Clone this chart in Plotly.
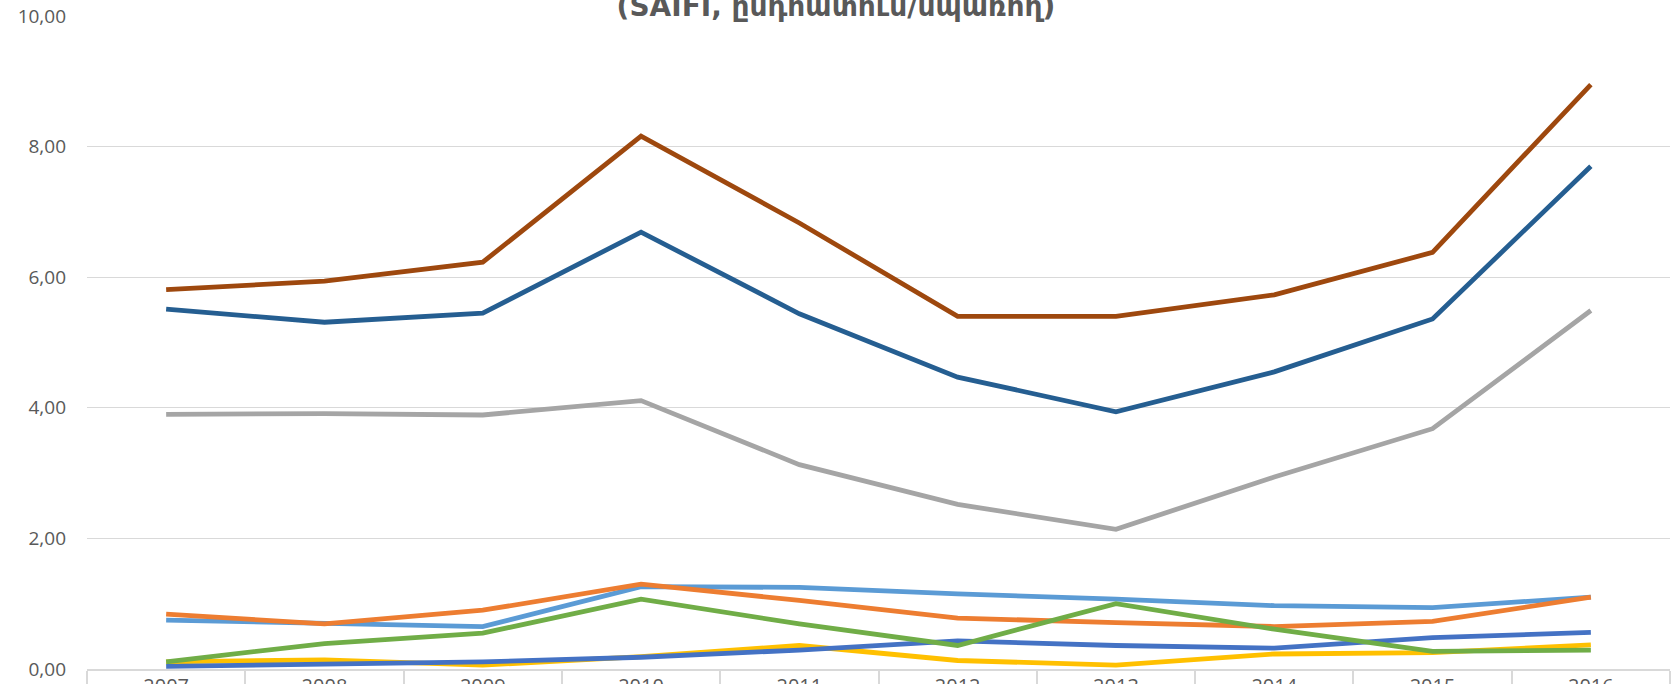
import plotly.graph_objects as go

years = ["2007", "2008", "2009", "2010", "2011", "2012", "2013", "2014", "2015", "2016"]

s_lightblue = [0.75, 0.70, 0.65, 1.26, 1.25, 1.15, 1.07, 0.97, 0.94, 1.10]
s_orange    = [0.84, 0.69, 0.90, 1.30, 1.05, 0.78, 0.71, 0.65, 0.73, 1.10]
s_gray      = [3.90, 3.91, 3.89, 4.11, 3.13, 2.52, 2.14, 2.94, 3.68, 5.49]
s_yellow    = [0.11, 0.14, 0.06, 0.19, 0.36, 0.13, 0.06, 0.23, 0.25, 0.37]
s_blue      = [0.04, 0.07, 0.11, 0.18, 0.29, 0.43, 0.36, 0.32, 0.48, 0.56]
s_green     = [0.11, 0.39, 0.55, 1.07, 0.69, 0.36, 1.00, 0.61, 0.27, 0.29]
s_darkblue  = [5.51, 5.31, 5.45, 6.69, 5.44, 4.47, 3.94, 4.55, 5.36, 7.70]
s_brown     = [5.81, 5.94, 6.23, 8.16, 6.83, 5.40, 5.40, 5.73, 6.38, 8.95]

series = [
    (s_lightblue, "#5B9BD5"),
    (s_orange, "#ED7D31"),
    (s_gray, "#A5A5A5"),
    (s_yellow, "#FFC000"),
    (s_blue, "#4472C4"),
    (s_green, "#70AD47"),
    (s_darkblue, "#255E91"),
    (s_brown, "#9E480E"),
]

title_text = "(SAIFI, ընդհատում/սպառող)"
y_ticks = [0, 2, 4, 6, 8, 10]

fig = go.Figure()
for vals, col in series:
    fig.add_trace(go.Scatter(
        x=years, y=vals, mode="lines",
        line=dict(color=col, width=4.8),
        showlegend=False, hoverinfo="skip",
    ))

fig.update_layout(
    width=1672, height=684,
    margin=dict(l=87, r=2, t=16, b=15),
    paper_bgcolor="white", plot_bgcolor="white",
    separators=", ",
    title=dict(
        text="<b>" + title_text + "</b>",
        xref="container", x=0.5, xanchor="center",
        yref="container", y=1 - 6.5 / 684, yanchor="middle",
        font=dict(family="DejaVu Sans", size=28, color="#595959"),
    ),
    xaxis=dict(
        type="category",
        range=[-0.5, 9.5],
        tickson="boundaries",
        ticks="outside", ticklen=30, tickwidth=1.5, tickcolor="#d9d9d9",
        showgrid=False, zeroline=False,
        showline=True, linecolor="#d9d9d9", linewidth=2,
        ticklabelstandoff=-2,
        automargin=False,
        tickfont=dict(family="Open Sans", size=20, color="#595959"),
    ),
    yaxis=dict(
        range=[0, 10],
        tickvals=y_ticks,
        tickformat=".2f",
        showgrid=True, gridcolor="#d9d9d9", gridwidth=1.3,
        zeroline=False, showline=False,
        ticks="", ticklabelstandoff=20,
        automargin=False,
        tickfont=dict(family="Open Sans", size=19, color="#595959"),
    ),
)

fig.write_html("out.html", config={"displayModeBar": False},
               post_script="document.body.style.margin='0';")
